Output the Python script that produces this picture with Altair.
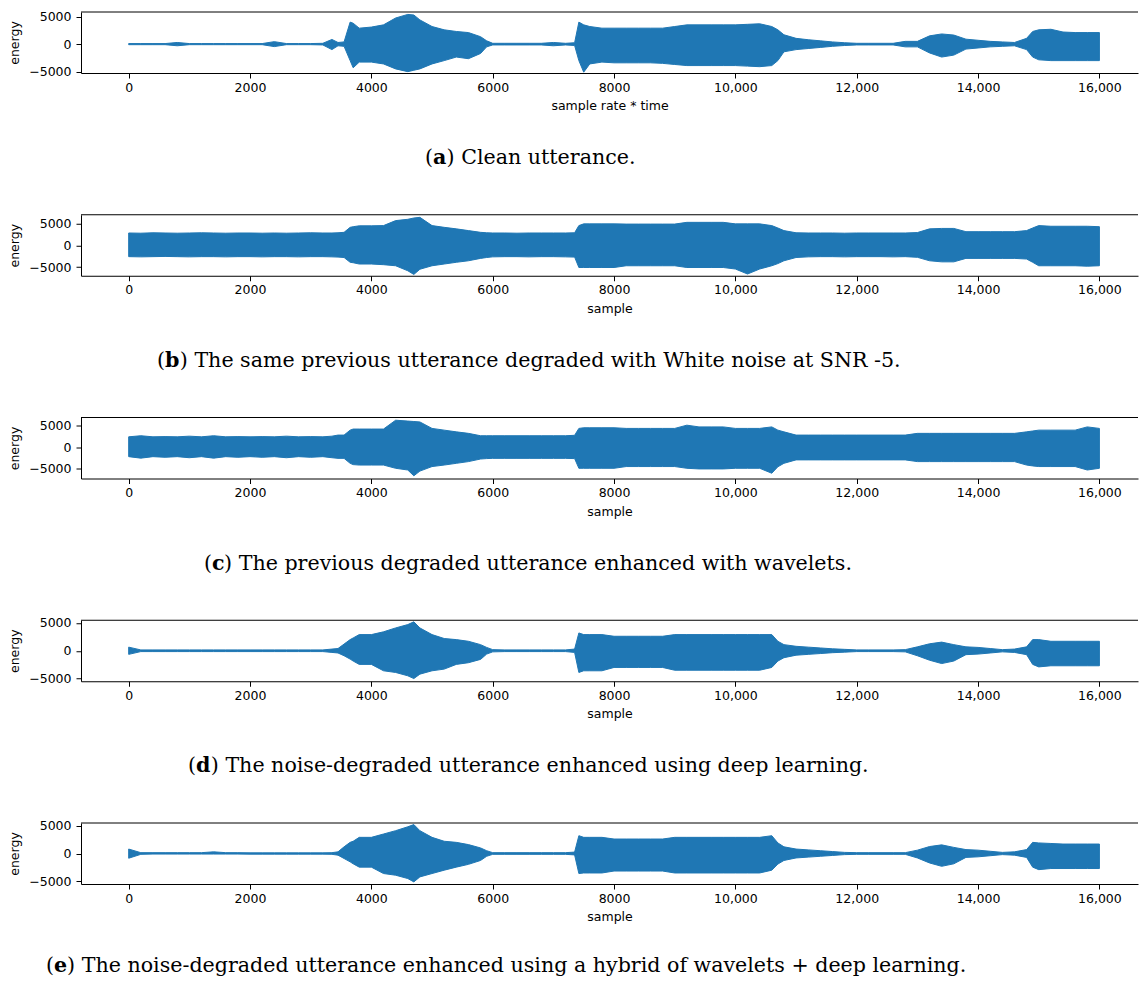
import altair as alt
import pandas as pd

BLUE = "#1f77b4"
SERIF = "DejaVu Serif"
SANS = "DejaVu Sans"

X = [0, 200, 400, 600, 800, 1000, 1200, 1400, 1600, 1800,
     2000, 2200, 2400, 2600, 2800, 3000, 3200, 3350, 3450, 3550,
     3650, 3700, 3800, 4000, 4200, 4400, 4600, 4700, 4800, 5000,
     5200, 5400, 5600, 5800, 5900, 6000, 6200, 6400, 6600, 6800,
     7000, 7200, 7350, 7420, 7500, 7600, 7800, 8000, 8200, 8400,
     8600, 8800, 9000, 9200, 9400, 9600, 9800, 10000, 10200, 10400,
     10600, 10700, 10800, 11000, 11200, 11400, 11600, 11800, 12000, 12200,
     12400, 12600, 12800, 13000, 13200, 13400, 13600, 13800, 14000, 14200,
     14400, 14600, 14800, 14900, 15000, 15200, 15400, 15600, 15800, 16000]

# (a) clean utterance envelope
UP_A = [100, 100, 100, 100, 300, 100, 100, 100, 100, 100,
        100, 100, 450, 100, 100, 100, 150, 850, 300, 400,
        4000, 3800, 2900, 3100, 3500, 4750, 5400, 5300, 4400, 3200,
        2600, 2300, 2100, 1350, 600, 150, 150, 150, 150, 150,
        300, 150, 250, 4000, 3500, 3200, 2900, 2900, 2900, 2900,
        2900, 2900, 3200, 3500, 3500, 3500, 3500, 3500, 3600, 3700,
        3200, 2600, 1700, 1050, 800, 600, 400, 250, 150, 150,
        150, 150, 500, 500, 1500, 1850, 1650, 900, 700, 500,
        400, 300, 1050, 2300, 2600, 2700, 2200, 2100, 2100, 2100]
LO_A = [-100, -100, -100, -100, -300, -100, -100, -100, -100, -100,
        -100, -100, -450, -100, -100, -100, -150, -1000, -300, -400,
        -3000, -4300, -3270, -3270, -3600, -4500, -5000, -4750, -4500, -3600,
        -3000, -2350, -2650, -1700, -500, -150, -150, -150, -150, -150,
        -300, -150, -250, -3000, -5100, -3600, -3270, -3400, -3400, -3400,
        -3400, -3500, -3700, -3900, -3900, -3900, -3900, -3900, -4000, -4100,
        -3900, -3000, -1400, -1000, -800, -600, -400, -250, -150, -150,
        -150, -150, -500, -500, -1600, -2350, -2000, -900, -700, -500,
        -400, -300, -1000, -2350, -2850, -3000, -3000, -3000, -3000, -3000]

# (b) degraded with white noise
UP_B = [2850, 2800, 2900, 2850, 2800, 2850, 2900, 2850, 2800, 2850,
        2850, 2800, 2850, 2800, 2850, 2900, 2850, 2850, 2900, 3000,
        4150, 4300, 4500, 4500, 4550, 5700, 6000, 6300, 6450, 4550,
        4150, 3800, 3400, 3000, 2900, 2850, 2850, 2800, 2850, 2850,
        2850, 2850, 2900, 4550, 4950, 4950, 4950, 4950, 4900, 4900,
        4900, 4900, 4900, 5300, 5300, 5300, 5300, 4950, 4950, 4950,
        4550, 4000, 3400, 2900, 2850, 2850, 2850, 2800, 2850, 2850,
        2850, 2850, 2850, 2950, 3800, 3900, 3900, 3150, 3150, 3150,
        3150, 3150, 3400, 4000, 4550, 4400, 4400, 4400, 4400, 4300]
LO_B = [-2600, -2650, -2600, -2550, -2600, -2650, -2600, -2600, -2650, -2600,
        -2600, -2650, -2600, -2600, -2650, -2600, -2600, -2650, -2700, -2800,
        -3900, -4000, -4300, -4300, -4450, -4700, -5850, -6700, -5500, -4700,
        -4300, -3900, -3550, -3000, -2800, -2650, -2600, -2600, -2650, -2600,
        -2600, -2650, -2700, -5100, -5100, -5100, -5100, -5100, -4700, -4700,
        -4700, -4700, -4700, -5100, -5100, -5100, -5100, -5450, -6600, -5450,
        -4700, -4200, -3550, -2800, -2650, -2600, -2600, -2650, -2600, -2600,
        -2600, -2650, -2600, -2750, -3550, -3800, -3800, -3000, -3000, -3000,
        -3000, -3000, -3150, -3900, -4700, -4700, -4700, -4700, -4800, -4700]

# (c) enhanced with wavelets
UP_C = [2450, 2700, 2450, 2500, 2450, 2600, 2450, 2700, 2450, 2500,
        2450, 2500, 2450, 2600, 2450, 2500, 2450, 2600, 2850, 2850,
        4000, 4250, 4250, 4250, 4250, 6300, 6100, 6000, 5900, 4400,
        4000, 3600, 3250, 2700, 2700, 2700, 2700, 2700, 2700, 2700,
        2700, 2700, 2800, 4400, 4550, 4550, 4550, 4550, 4400, 4400,
        4400, 4400, 4400, 5150, 4750, 4750, 4750, 4400, 4400, 4400,
        4750, 4000, 3600, 2850, 2850, 2850, 2850, 2850, 2850, 2850,
        2850, 2850, 2850, 3250, 3250, 3250, 3250, 3250, 3250, 3250,
        3250, 3250, 3600, 3800, 4000, 4000, 4000, 4000, 4750, 4400]
LO_C = [-2150, -2500, -2150, -2300, -2150, -2400, -2150, -2500, -2150, -2300,
        -2150, -2300, -2150, -2400, -2150, -2300, -2150, -2400, -2550, -2550,
        -3700, -4000, -4100, -4100, -4100, -4850, -5250, -6600, -5500, -4450,
        -4100, -3700, -3300, -2700, -2600, -2550, -2550, -2550, -2550, -2550,
        -2550, -2550, -2600, -4850, -4850, -4850, -4850, -4850, -4450, -4450,
        -4450, -4450, -4450, -4850, -5000, -5000, -5000, -4850, -4850, -4850,
        -6000, -4500, -3700, -2900, -2900, -2900, -2900, -2900, -2900, -2900,
        -2900, -2900, -2900, -3300, -3300, -3300, -3300, -3300, -3300, -3300,
        -3300, -3300, -4100, -4300, -4450, -4450, -4450, -4450, -5250, -4850]

# (d) enhanced using deep learning
UP_D = [650, 150, 150, 150, 150, 150, 150, 150, 150, 150,
        150, 150, 150, 150, 150, 150, 150, 300, 400, 1200,
        2000, 2300, 2900, 2900, 3400, 4100, 4700, 5200, 4100, 2900,
        2200, 2000, 1700, 1100, 600, 200, 150, 150, 150, 150,
        150, 150, 300, 3200, 2900, 2900, 2900, 2600, 2600, 2600,
        2600, 2600, 2900, 2900, 2900, 2900, 2900, 2900, 2900, 2900,
        2900, 1700, 1100, 800, 650, 500, 350, 250, 150, 150,
        150, 150, 200, 700, 1250, 1550, 1100, 700, 600, 400,
        200, 300, 700, 2000, 2000, 1700, 1700, 1700, 1700, 1700]
LO_D = [-650, -150, -150, -150, -150, -150, -150, -150, -150, -150,
        -150, -150, -150, -150, -150, -150, -150, -300, -400, -900,
        -1500, -1850, -2450, -2450, -3600, -3900, -4500, -5000, -4200, -3600,
        -3300, -2450, -2150, -1550, -600, -200, -150, -150, -150, -150,
        -150, -150, -300, -3900, -3600, -3600, -3600, -3000, -3000, -3000,
        -3000, -3000, -3500, -3500, -3500, -3500, -3500, -3500, -3500, -3500,
        -3000, -1850, -1250, -800, -650, -500, -350, -250, -150, -150,
        -150, -150, -200, -900, -1700, -2300, -1850, -700, -600, -400,
        -200, -300, -700, -2450, -2900, -2700, -2700, -2700, -2700, -2700]

# (e) hybrid wavelets + deep learning
UP_E = [800, 150, 150, 150, 150, 150, 150, 300, 150, 150,
        120, 120, 120, 120, 120, 120, 120, 150, 300, 1200,
        2000, 2200, 2900, 2900, 3500, 4100, 4800, 5200, 4100, 2900,
        2200, 2000, 1600, 1000, 500, 150, 150, 150, 150, 150,
        150, 150, 250, 3200, 2900, 2900, 2900, 2600, 2600, 2600,
        2600, 2600, 2900, 2900, 2900, 2900, 2900, 2900, 2900, 2900,
        3200, 1900, 1200, 800, 650, 500, 350, 200, 150, 150,
        150, 150, 150, 600, 1250, 1550, 1100, 700, 600, 400,
        200, 300, 700, 2000, 1900, 1800, 1700, 1700, 1700, 1700]
LO_E = [-850, -150, -100, -100, -100, -100, -100, -100, -100, -100,
        -120, -120, -120, -120, -120, -120, -120, -150, -300, -900,
        -1500, -1850, -2450, -2450, -3600, -3900, -4500, -5100, -4200, -3600,
        -3000, -2450, -1950, -1250, -500, -150, -150, -150, -150, -150,
        -150, -150, -250, -3600, -3500, -3500, -3500, -3150, -3150, -3150,
        -3150, -3150, -3500, -3500, -3500, -3500, -3500, -3500, -3500, -3500,
        -3000, -1900, -1250, -800, -650, -500, -350, -200, -150, -150,
        -150, -150, -150, -800, -1700, -2300, -1850, -700, -600, -400,
        -200, -300, -700, -2450, -2900, -2700, -2700, -2700, -2700, -2700]

LETTERS = ["a", "b", "c", "d", "e"]
CAPTIONS = [
    "Clean utterance.",
    "The same previous utterance degraded with White noise at SNR -5.",
    "The previous degraded utterance enhanced with wavelets.",
    "The noise-degraded utterance enhanced using deep learning.",
    "The noise-degraded utterance enhanced using a hybrid of wavelets + deep learning.",
]
X_TITLES = ["sample rate * time", "sample", "sample", "sample", "sample"]
Y_DOMAINS = [[-5250, 5840], [-7000, 7050], [-7220, 6930], [-5480, 5480], [-5480, 5480]]
X_DOMAIN = [-786, 16636]
X_TICKS = [0, 2000, 4000, 6000, 8000, 10000, 12000, 14000, 16000]
Y_TICKS = [-5000, 0, 5000]

# layout (pixels, relative to each plot area)
W, H = 1057, 61
CAP_X = [344, 76, 123, 107, -35]
CAP_Y = [152, 152, 152, 152, 149]
CAP_FS = 20.6
PAREN_W = 8.0
BOLD_W = {"a": 13.6, "b": 14.8, "c": 12.1, "d": 14.8, "e": 13.1}

SERIES = [(UP_A, LO_A), (UP_B, LO_B), (UP_C, LO_C), (UP_D, LO_D), (UP_E, LO_E)]
for u, l in SERIES:
    assert len(u) == len(X) and len(l) == len(X)

X_LABEL = "datum.value >= 10000 ? format(datum.value, ',') : format(datum.value, 'd')"
Y_LABEL = "datum.value < 0 ? '\u2212' + format(-datum.value, 'd') : format(datum.value, 'd')"


def panel(i):
    up, lo = SERIES[i]
    df = pd.DataFrame({"x": X, "hi": up, "lo": lo})
    area = alt.Chart(df).mark_area(color=BLUE, stroke=BLUE, strokeWidth=1).encode(
        x=alt.X("x:Q",
                scale=alt.Scale(domain=X_DOMAIN, nice=False, zero=False),
                axis=alt.Axis(values=X_TICKS, title=X_TITLES[i], labelExpr=X_LABEL)),
        y=alt.Y("hi:Q",
                scale=alt.Scale(domain=Y_DOMAINS[i], nice=False, zero=False),
                axis=alt.Axis(values=Y_TICKS, title="energy", labelExpr=Y_LABEL)),
        y2="lo:Q",
    )
    cap = pd.DataFrame({"p": ["("], "l": [LETTERS[i]], "r": [") " + CAPTIONS[i]]})
    base = alt.Chart(cap)
    top_line = base.mark_rule(color="black", strokeWidth=1).encode(
        x=alt.value(0), x2=alt.value(W), y=alt.value(0))
    x0 = CAP_X[i]
    cy = CAP_Y[i]
    t1 = base.mark_text(align="left", baseline="alphabetic", font=SERIF, fontSize=CAP_FS,
                        color="black").encode(text="p:N", x=alt.value(x0), y=alt.value(cy))
    t2 = base.mark_text(align="left", baseline="alphabetic", font=SERIF, fontSize=CAP_FS,
                        fontWeight="bold", color="black").encode(
        text="l:N", x=alt.value(x0 + PAREN_W), y=alt.value(cy))
    t3 = base.mark_text(align="left", baseline="alphabetic", font=SERIF, fontSize=CAP_FS,
                        color="black").encode(
        text="r:N", x=alt.value(x0 + PAREN_W + BOLD_W[LETTERS[i]]), y=alt.value(cy))
    return alt.layer(area, top_line, t1, t2, t3).properties(width=W, height=H)


chart = alt.vconcat(*[panel(i) for i in range(5)], spacing=141.75, bounds="flush").properties(
    padding={"left": 0, "top": 2, "right": 0, "bottom": 0}
).configure_view(
    stroke=None
).configure_axis(
    grid=False,
    domainColor="black",
    domainWidth=1,
    tickColor="black",
    tickSize=5,
    tickWidth=1,
    labelFont=SANS,
    labelFontSize=12.5,
    labelColor="black",
    titleFont=SANS,
    titleFontSize=12.5,
    titleFontWeight="normal",
    titleColor="black",
).configure_axisX(
    labelPadding=3, titlePadding=6
).configure_axisY(
    labelPadding=5, titlePadding=7
)

chart.save("out.html", embed_options={"renderer": "svg", "actions": False})
